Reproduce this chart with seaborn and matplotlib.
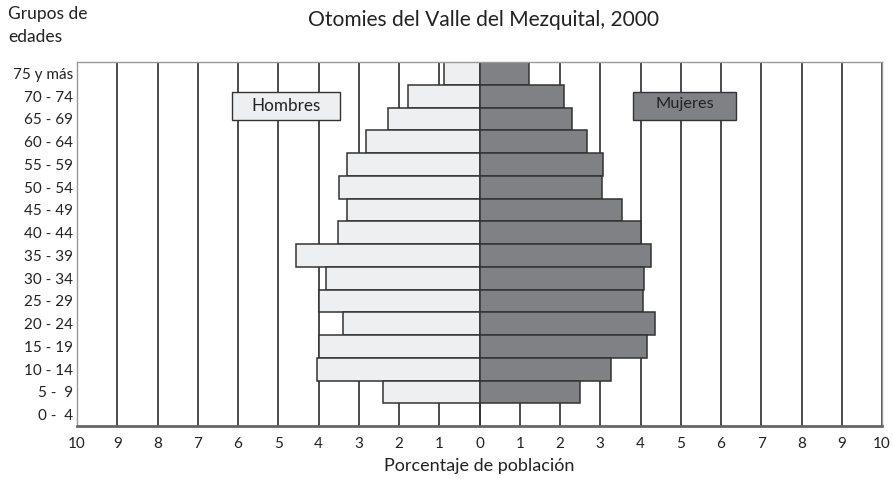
import matplotlib
matplotlib.use("Agg")
import matplotlib.pyplot as plt
from matplotlib.patches import Rectangle
import seaborn as sns
import pandas as pd

categories = ["75 y más", "70 - 74", "65 - 69", "60 - 64", "55 - 59", "50 - 54",
              "45 - 49", "40 - 44", "35 - 39", "30 - 34", "25 - 29", "20 - 24",
              "15 - 19", "10 - 14", "5 -  9", "0 -  4"]
hombres = [0.87, 1.77, 2.27, 2.83, 3.28, 3.49, 3.30, 3.52, 4.57, 3.82, 3.99, 3.39,
           3.99, 4.04, 2.39, 0.0]
mujeres = [1.22, 2.10, 2.30, 2.66, 3.08, 3.05, 3.55, 4.01, 4.25, 4.08, 4.06, 4.37,
           4.16, 3.27, 2.49, 0.0]
xticks = list(range(-10, 11))
xticklabels = [str(abs(v)) for v in xticks]

df = pd.DataFrame({"edad": categories,
                   "hombres": [-v for v in hombres],
                   "mujeres": mujeres})

sns.set_theme(style="white")
plt.rcParams["font.family"] = ["Lato", "DejaVu Sans"]

fig = plt.figure(figsize=(8.93, 4.79), dpi=100)
ax = fig.add_axes([77 / 893, 1 - 426 / 479, (882 - 77) / 893, (426 - 62) / 479])

light = "#eeeff1"
dark = "#808184"
edge = "#333333"

sns.barplot(data=df, x="hombres", y="edad", order=categories, orient="h",
            color=light, edgecolor=edge, linewidth=1.1, width=1.0, ax=ax,
            saturation=1, zorder=3)
sns.barplot(data=df, x="mujeres", y="edad", order=categories, orient="h",
            color=dark, edgecolor=edge, linewidth=1.1, width=1.0, ax=ax,
            saturation=1, zorder=3)

ax.set_xlim(-10, 10)
ax.set_ylim(len(categories) - 0.5, -0.5)
ax.set_xticks(xticks)
ax.set_xticklabels(xticklabels, fontsize=11, color="#222222")
ax.tick_params(axis="x", direction="out", length=4, width=1, color="#555555", pad=4)
ax.tick_params(axis="y", length=0, labelsize=11, labelcolor="#222222", pad=3)
ax.grid(axis="x", color="#1a1a1a", linewidth=1.1, zorder=1)
ax.grid(axis="y", visible=False)
ax.set_axisbelow(True)

for side in ["top", "left", "right"]:
    ax.spines[side].set_color("#999999")
    ax.spines[side].set_linewidth(1.0)
ax.spines["bottom"].set_color("#666666")
ax.spines["bottom"].set_linewidth(2.0)
for s in ax.spines.values():
    s.set_zorder(5)

ax.set_xlabel("Porcentaje de población", fontsize=13, color="#222222", labelpad=5)
ax.set_ylabel("")

# legend boxes
ax.add_patch(Rectangle((-6.16, 0.84), 2.69, 1.19, facecolor=light, edgecolor=edge,
                       linewidth=1.0, zorder=4))
ax.text(-6.16 + 2.69 / 2, 0.84 + 1.19 / 2, "Hombres", ha="center", va="center",
        fontsize=12.3, color="#222222", zorder=6)
ax.add_patch(Rectangle((3.81, 0.84), 2.57, 1.23, facecolor=dark, edgecolor=edge,
                       linewidth=1.0, zorder=4))
ax.text(3.81 + 2.57 / 2, 0.84 + 1.23 / 2 - 0.12, "Mujeres", ha="center", va="center",
        fontsize=11.8, color="#222222", zorder=6)

fig.text(484 / 893, 1 - 20 / 479, "Otomies del Valle del Mezquital, 2000",
         ha="center", va="center", fontsize=15.1, color="#222222")
fig.text(8 / 893, 1 - 6 / 479, "Grupos de\nedades", ha="left", va="top",
         fontsize=12.5, color="#222222", linespacing=1.55)

fig.savefig("out.png", dpi=100)
